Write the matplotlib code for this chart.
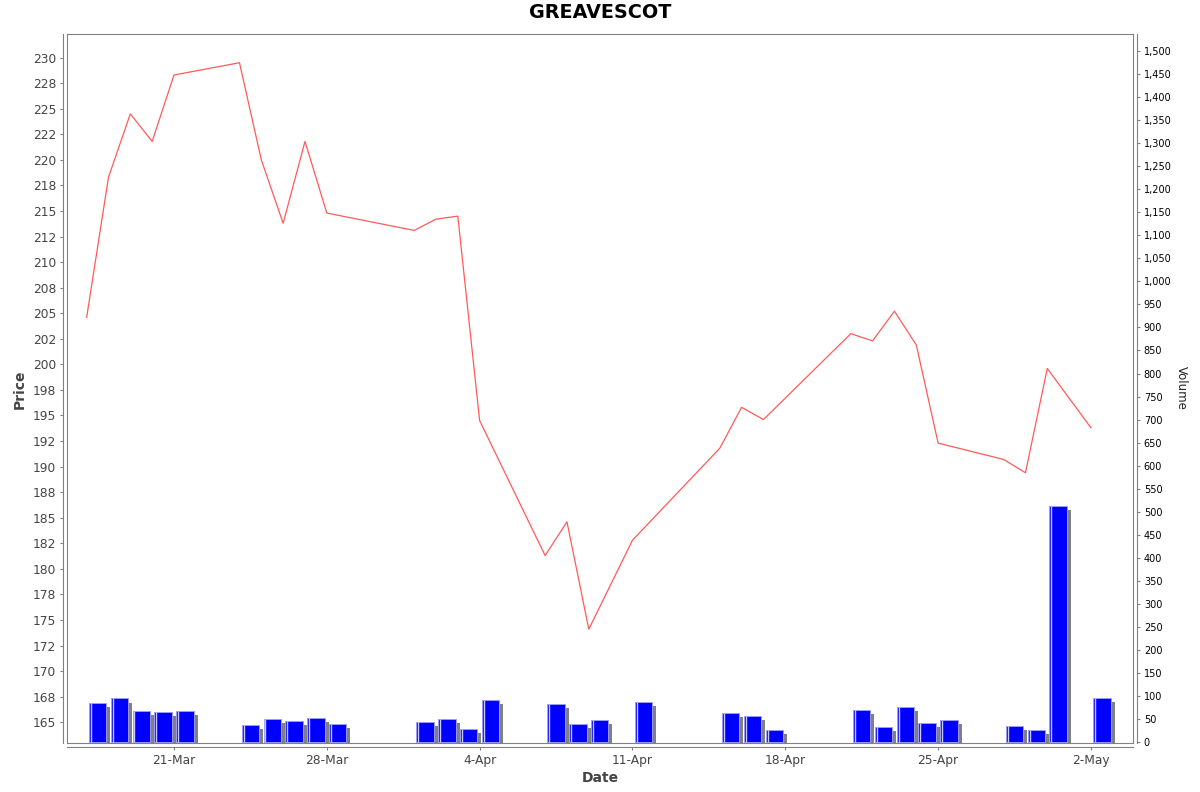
import datetime
import matplotlib; matplotlib.use("Agg")
import matplotlib.pyplot as plt
import matplotlib.dates as mdates
import matplotlib.patheffects as pe
from matplotlib.ticker import MultipleLocator, FuncFormatter

# trading days shown in the chart
dates = ["2025-03-17", "2025-03-18", "2025-03-19", "2025-03-20", "2025-03-21",
         "2025-03-24", "2025-03-25", "2025-03-26", "2025-03-27", "2025-03-28",
         "2025-04-01", "2025-04-02", "2025-04-03", "2025-04-04",
         "2025-04-07", "2025-04-08", "2025-04-09", "2025-04-11",
         "2025-04-15", "2025-04-16", "2025-04-17",
         "2025-04-21", "2025-04-22", "2025-04-23", "2025-04-24", "2025-04-25",
         "2025-04-28", "2025-04-29", "2025-04-30", "2025-05-02"]
price = [204.6, 218.3, 224.5, 221.8, 228.3,
         229.5, 220.0, 213.8, 221.8, 214.8,
         213.1, 214.2, 214.5, 194.5,
         181.3, 184.6, 174.1, 182.8,
         191.8, 195.8, 194.6,
         203.0, 202.3, 205.2, 201.9, 192.3,
         190.7, 189.4, 199.6, 193.8]
volume = [86, 95, 68, 66, 68,
          38, 50, 46, 52, 40,
          45, 50, 29, 91,
          83, 39, 48, 87,
          63, 57, 26,
          71, 33, 77, 41, 49,
          35, 26, 513, 96]

title = "GREAVESCOT"
gray = "#808080"
txt = "#444444"

xd = mdates.date2num([datetime.datetime.strptime(d, "%Y-%m-%d") for d in dates])

fig = plt.figure(figsize=(12, 7.92), dpi=100)
W, H = 1200, 792
ax = fig.add_axes([67.3 / W, 1 - 743.3 / H, (1133.3 - 67.3) / W, (743.3 - 34.3) / H])
ax2 = ax.twinx()
ax.set_zorder(ax2.get_zorder() + 1)
ax.patch.set_visible(False)

# volume bars with a drop shadow and a light strip near the left edge
bars = ax2.bar(xd + 0.1, volume, width=0.8, align="edge", color="#0000ff",
               edgecolor="#9a9aff", linewidth=0.7)
for b in bars:
    b.set_path_effects([pe.SimplePatchShadow(offset=(2.9, -2.9), shadow_rgbFace=gray, alpha=1.0),
                        pe.Normal()])
ax2.vlines(xd + 0.19, 0, volume, color="#c8c8ff", lw=1.0)

# price line
ax.plot(xd, price, color="#ff5a5a", lw=0.9)

# limits
x0 = mdates.date2num(datetime.datetime(2025, 3, 21)) - 4.887
x1 = mdates.date2num(datetime.datetime(2025, 5, 2)) + 1.94
ax.set_xlim(x0, x1)
ax.set_ylim(162.94, 232.28)
ax2.set_ylim(-2.2, 1536)

# axes lines: frame + offset axis lines
for s in ax.spines.values():
    s.set_color(gray)
for s in ax2.spines.values():
    s.set_color(gray)
ax.spines["left"].set_position(("outward", 2.9))
ax.spines["bottom"].set_position(("outward", 2.9))
ax2.spines["right"].set_position(("outward", 2.9))
ax2.spines["top"].set_visible(False)

ax.yaxis.set_major_locator(MultipleLocator(2.5))
ax.yaxis.set_major_formatter(FuncFormatter(lambda v, _: f"{round(v)}"))
ax2.yaxis.set_major_locator(MultipleLocator(50))
ax2.yaxis.set_major_formatter(FuncFormatter(lambda v, _: f"{v:,.0f}"))
ax.xaxis.set_major_locator(mdates.WeekdayLocator(byweekday=mdates.FR))
ax.xaxis.set_major_formatter(FuncFormatter(
    lambda v, _: f"{mdates.num2date(v).day}-{mdates.num2date(v):%b}"))

ax.tick_params(axis="y", length=2.5, width=0.8, color=gray, labelsize=8.8,
               labelcolor=txt, pad=2.5)
ax.tick_params(axis="x", length=2.5, width=0.8, color=gray, labelsize=8.8,
               labelcolor=txt, pad=2)
ax2.tick_params(axis="y", length=2.5, width=0.8, color=gray, labelsize=7,
                labelcolor="black", pad=2.2)

fig.text(0.5, 1 - 12 / H, title, ha="center", va="center", fontsize=13.8,
         fontweight="bold")
fig.text(20 / W, 1 - 389 / H, "Price", rotation=90, ha="center", va="center",
         fontsize=10, fontweight="bold", color=txt)
fig.text(600 / W, 1 - 778 / H, "Date", ha="center", va="center",
         fontsize=10, fontweight="bold", color=txt)
fig.text(1181 / W, 1 - 388 / H, "Volume", rotation=270, ha="center", va="center",
         fontsize=8.5, color="#222222")

fig.savefig("out.png", dpi=100, facecolor="white")
